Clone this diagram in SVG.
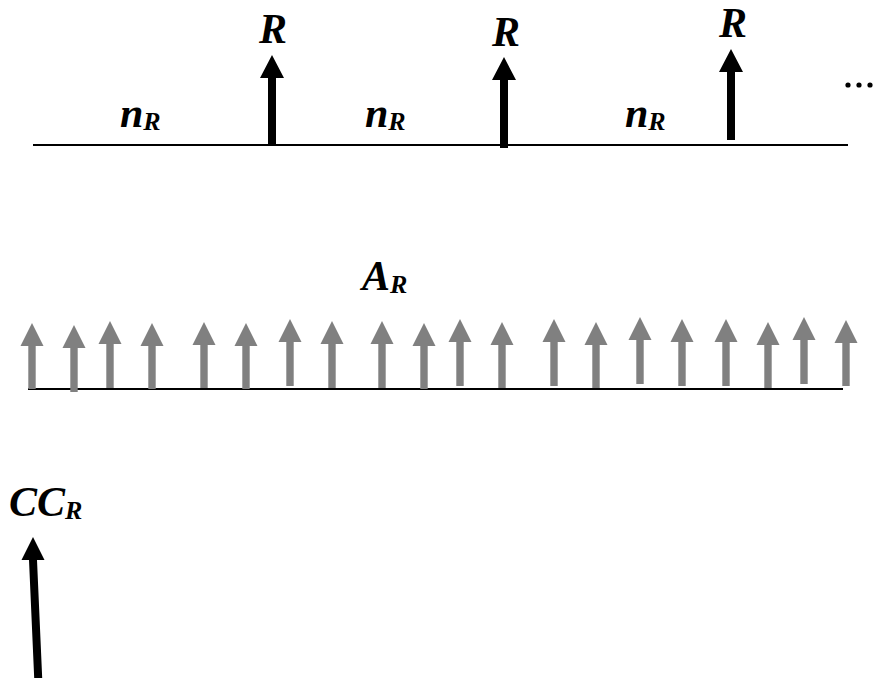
<svg xmlns="http://www.w3.org/2000/svg" width="873" height="678" viewBox="0 0 873 678">
<style>
.lbl{font-family:"Liberation Serif","Times New Roman",serif;font-weight:bold;font-style:italic;fill:#000}
.big{font-size:42px}
.sub{font-size:26px}
.base{stroke:#000;stroke-width:1.8;fill:none}
.blk{fill:#000}
.gry{fill:#808080}
</style>
<rect width="873" height="678" fill="#fff"/>
<g id="connectors">
<line class="base" x1="33" y1="145" x2="848" y2="145"/>
<line class="base" x1="28" y1="389" x2="843" y2="389"/>
</g>
<g id="top-row">
<g id="nR1"><text class="lbl" x="120" y="127"><tspan class="big">n</tspan><tspan class="sub" dy="3">R</tspan></text></g>
<g id="nR2"><text class="lbl" x="365" y="127"><tspan class="big">n</tspan><tspan class="sub" dy="3">R</tspan></text></g>
<g id="nR3"><text class="lbl" x="625" y="127"><tspan class="big">n</tspan><tspan class="sub" dy="3">R</tspan></text></g>
<g id="R1"><path class="blk" d="M268,146V78H260L272,55L284,78H276V146Z"/><text class="lbl big" x="273" y="43" text-anchor="middle">R</text></g>
<g id="R2"><path class="blk" d="M500,148V80H492L504,57L516,80H508V148Z"/><text class="lbl big" x="506" y="46" text-anchor="middle">R</text></g>
<g id="R3"><path class="blk" d="M727,140V72H719L731,49L743,72H735V140Z"/><text class="lbl big" x="733" y="37" text-anchor="middle">R</text></g>
<g id="ellipsis"><circle cx="848" cy="85" r="2.6"/><circle cx="859" cy="85" r="2.6"/><circle cx="870" cy="85" r="2.6"/></g>
</g>
<g id="AR">
<text class="lbl" x="362" y="290"><tspan class="big">A</tspan><tspan class="sub" dy="3">R</tspan></text>
<g class="gry">
<path d="M28.3,389V346H20.5L32,323L43.5,346H35.7V389Z"/>
<path d="M70.3,392V348H62.5L74,325L85.5,348H77.7V392Z"/>
<path d="M106.3,388V344H98.5L110,321L121.5,344H113.7V388Z"/>
<path d="M148.3,389V346H140.5L152,323L163.5,346H155.7V389Z"/>
<path d="M200.3,388V345H192.5L204,322L215.5,345H207.7V388Z"/>
<path d="M242.3,389V346H234.5L246,323L257.5,346H249.7V389Z"/>
<path d="M286.3,386V342H278.5L290,319L301.5,342H293.7V386Z"/>
<path d="M328.3,388V344H320.5L332,321L343.5,344H335.7V388Z"/>
<path d="M378.3,388V344H370.5L382,321L393.5,344H385.7V388Z"/>
<path d="M420.3,389V346H412.5L424,323L435.5,346H427.7V389Z"/>
<path d="M456.3,386V342H448.5L460,319L471.5,342H463.7V386Z"/>
<path d="M498.3,388V345H490.5L502,322L513.5,345H505.7V388Z"/>
<path d="M550.3,386V342H542.5L554,319L565.5,342H557.7V386Z"/>
<path d="M592.3,388V345H584.5L596,322L607.5,345H599.7V388Z"/>
<path d="M636.3,384V340H628.5L640,317L651.5,340H643.7V384Z"/>
<path d="M678.3,386V342H670.5L682,319L693.5,342H685.7V386Z"/>
<path d="M722.3,386V342H714.5L726,319L737.5,342H729.7V386Z"/>
<path d="M764.3,388V345H756.5L768,322L779.5,345H771.7V388Z"/>
<path d="M800.3,384V340H792.5L804,317L815.5,340H807.7V384Z"/>
<path d="M842.3,386V343H834.5L846,320L857.5,343H849.7V386Z"/>
</g>
</g>
<g id="CCR">
<text class="lbl" x="9" y="516"><tspan class="big">CC</tspan><tspan class="sub" dy="3">R</tspan></text>
<path class="blk" d="M29,560L21.5,560L33,537L44.5,560L37,560L42.2,678L34.2,678Z"/>
</g>
</svg>
